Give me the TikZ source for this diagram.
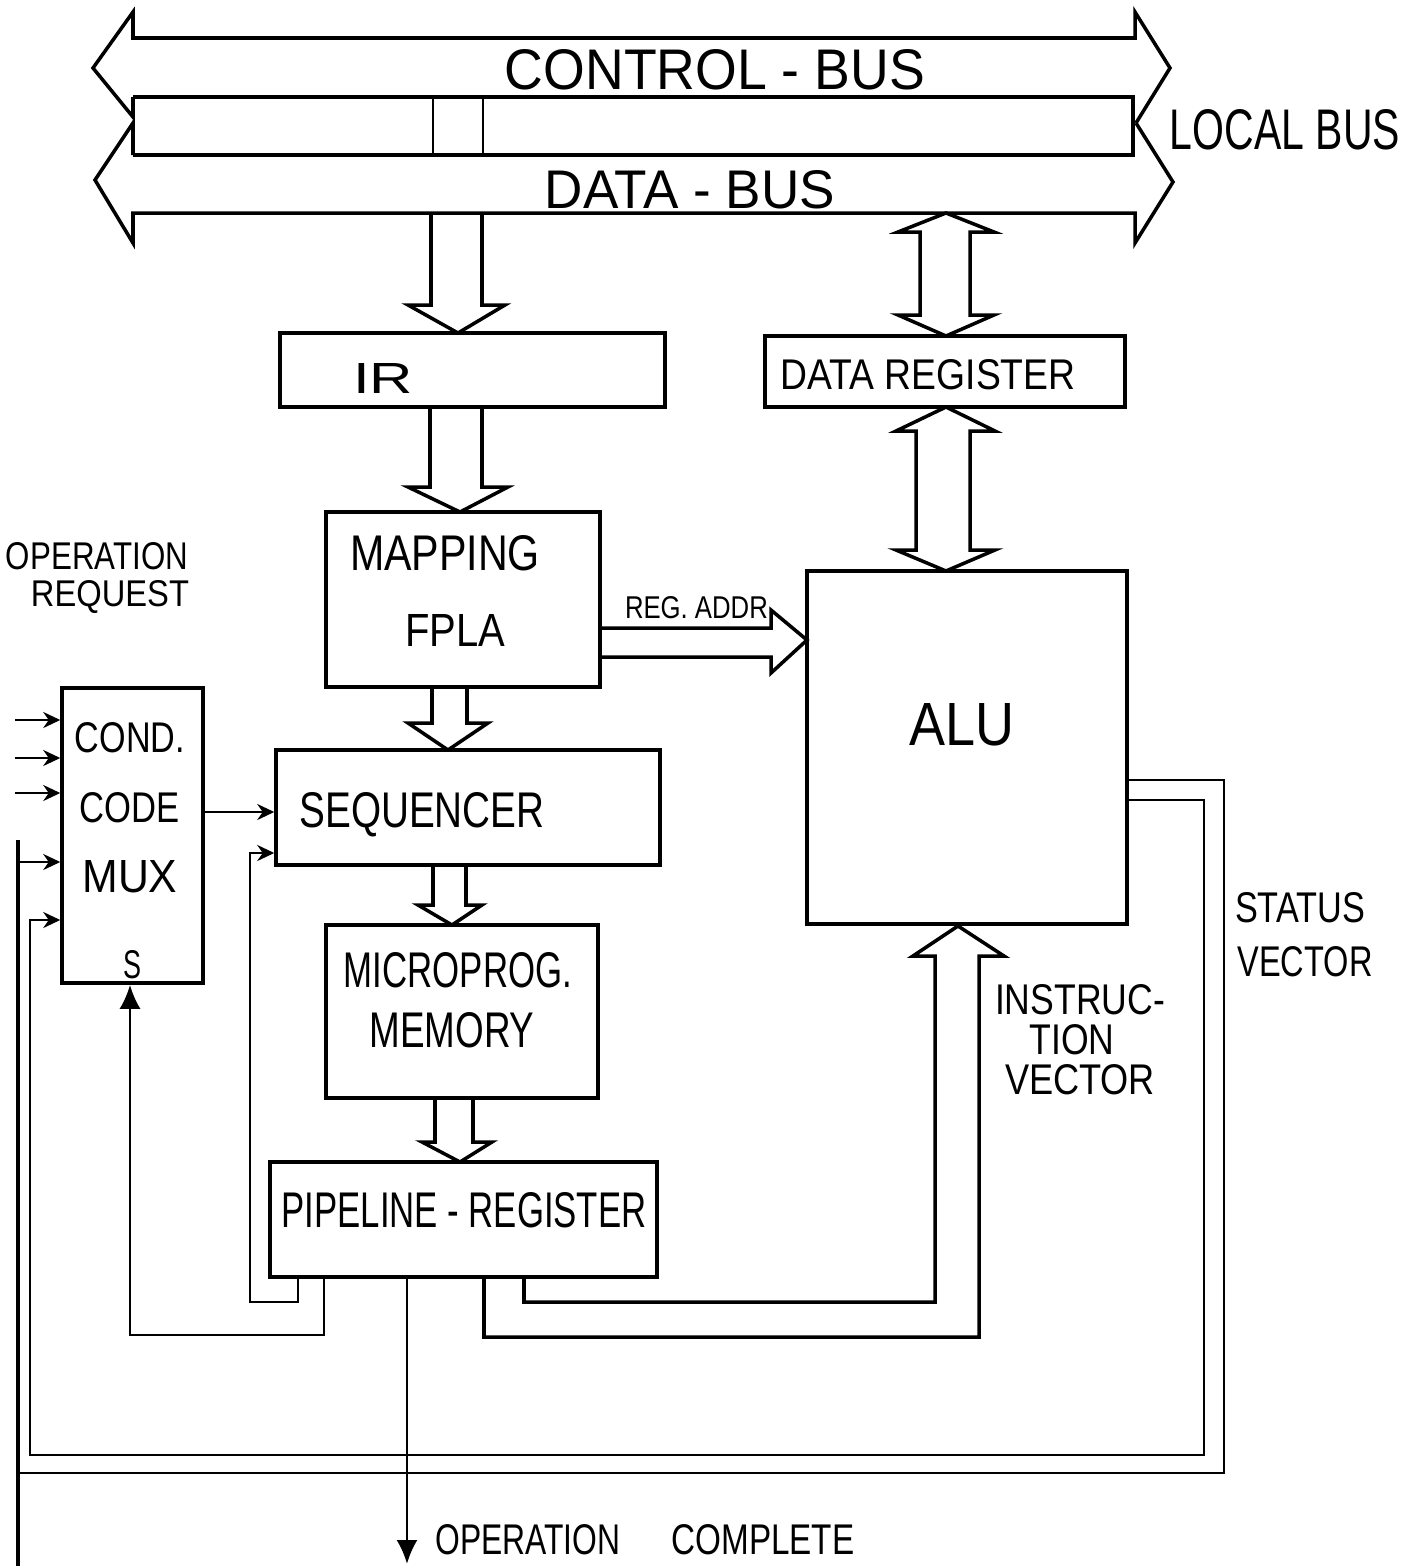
\documentclass[tikz,border=0pt]{standalone}
\usepackage{fontspec}
\setmainfont{Liberation Sans}
\usetikzlibrary{arrows.meta,fit}
\newlength\pxu \setlength\pxu{0.02cm}
\newcommand\hw[3]{\resizebox{#1\pxu}{#2\pxu}{#3}}
% hollow down arrow: xl xr ytop ybase headl headr tipx tipy
\newcommand\vfat[8]{\draw[bus] (#1,#3) -- (#1,#4) -- (#5,#4) -- (#7,#8) -- (#6,#4) -- (#2,#4) -- (#2,#3);}
% hollow double arrow: cx xl xr ytiptop ybasetop ybasebot ytipbot hl hr
\newcommand\vdbl[9]{\draw[bus] (#1,#4) -- (#9,#5) -- (#3,#5) -- (#3,#6) -- (#9,#6) -- (#1,#7) -- (#8,#6) -- (#2,#6) -- (#2,#5) -- (#8,#5) -- cycle;}
\begin{document}
\begin{tikzpicture}[x=0.02cm,y=-0.02cm,
  box/.style={draw,line width=2pt,inner sep=0pt},
  bus/.style={line width=2pt,line join=miter},
  wire/.style={line width=1.5pt},
  lbl/.style={inner sep=0pt},
  inarrow/.style={-{Stealth[length=0.34cm,width=0.32cm]}},
  bigtip/.style={-{Latex[length=0.48cm,width=0.42cm]}}]
\fill[white] (0,0) rectangle (1420,1566);
\useasboundingbox (0,0) rectangle (1420,1566);

% ---------------- buses ----------------
\draw[bus] (133,97) -- (133,117) -- (93,68) -- (133,12) -- (133,38) -- (1135,38) -- (1135,12) -- (1170,68) -- (1136,123);
\draw[bus] (133,97) -- (1133,97) -- (1133,155) -- (133,155);
\draw[bus] (133,155) -- (133,123) -- (95,180) -- (133,243) -- (133,213) -- (1135,213) -- (1135,243) -- (1173,182) -- (1136,123);
\draw[wire] (433,97) -- (433,155);
\draw[wire] (483,97) -- (483,155);

% ---------------- boxes ----------------
\node[box, fit={(280,333) (665,407)}] (ir) {};
\node[box, fit={(765,336) (1125,407)}] (dreg) {};
\node[box, fit={(326,512) (600,687)}] (map) {};
\node[box, fit={(807,571) (1127,924)}] (alu) {};
\node[box, fit={(62,688) (203,983)}] (mux) {};
\node[box, fit={(276,750) (660,865)}] (seq) {};
\node[box, fit={(326,925) (598,1098)}] (mem) {};
\node[box, fit={(270,1162) (657,1277)}] (pipe) {};

% ---------------- hollow arrows ----------------
\vfat{431}{482}{213}{305}{408}{505}{458}{333}
\vfat{430}{482}{407}{487}{408}{508}{460}{512}
\vfat{432}{467}{687}{723}{408}{488}{448}{750}
\vfat{433}{466}{865}{905}{418}{482}{452}{925}
\vfat{435}{473}{1098}{1142}{422}{492}{460}{1162}
\vdbl{946}{920}{970}{213}{232}{315}{336}{898}{994}
\vdbl{946}{916}{970}{407}{431}{550}{571}{896}{995}
% REG. ADDR.
\draw[bus] (600,628) -- (771,628) -- (771,610) -- (807,640) -- (771,673) -- (771,657) -- (600,657);
% instruction vector
\draw[bus] (524,1277) -- (524,1302) -- (935,1302) -- (935,956) -- (913,956) -- (958,926) -- (1004,956) -- (979,956) -- (979,1337) -- (484,1337) -- (484,1277);

% ---------------- wires ----------------
\draw[wire,inarrow] (mux.east |- 0,812) -- (seq.west |- 0,812);
\draw[wire,inarrow] (15,720) -- (mux.west |- 0,720);
\draw[wire,inarrow] (15,758) -- (mux.west |- 0,758);
\draw[wire,inarrow] (15,793) -- (mux.west |- 0,793);
\draw[line width=2.6pt] (18,840) -- (18,1566);
\draw[wire,inarrow] (18,862) -- (mux.west |- 0,862);
\draw[wire] (alu.east |- 0,780) -- (1224,780) -- (1224,1473) -- (18,1473);
\draw[wire,inarrow] (alu.east |- 0,800) -- (1204,800) -- (1204,1455) -- (30,1455) -- (30,920) -- (mux.west |- 0,920);
\draw[wire,inarrow] (pipe.south -| 298,0) -- (298,1302) -- (250,1302) -- (250,853) -- (seq.west |- 0,853);
\draw[wire,bigtip] (pipe.south -| 324,0) -- (324,1335) -- (130,1335) -- (mux.south -| 130,0);
\draw[wire,bigtip] (pipe.south -| 407,0) -- (407,1564);

% ---------------- labels ----------------
\node[lbl] (tcb) at (715,70) {\hw{420}{40}{CONTROL - BUS}};
\node[lbl] (tdb) at (690,190) {\hw{290}{38}{DATA - BUS}};
\node[lbl] (tlb) at (1285,130) {\hw{230}{40}{LOCAL BUS}};
\node[lbl] (tir) at (383,378) {\hw{60}{30}{IR}};
\node[lbl] (tdr) at (928,375) {\hw{295}{30}{DATA REGISTER}};
\node[lbl] (tmap1) at (445,553) {\hw{190}{35}{MAPPING}};
\node[lbl] (tmap2) at (455,630) {\hw{100}{32}{FPLA}};
\node[lbl] (treg) at (700,608) {\hw{150}{22}{REG. ADDR.}};
\node[lbl] (talu) at (962,725) {\hw{105}{42}{ALU}};
\node[lbl] (tmux1) at (130,738) {\hw{110}{30}{COND.}};
\node[lbl] (tmux2) at (130,808) {\hw{100}{30}{CODE}};
\node[lbl] (tmux3) at (130,877) {\hw{95}{32}{MUX}};
\node[lbl] (tsel) at (132,965) {\hw{18}{28}{S}};
\node[lbl] (tseq) at (422,815) {\hw{245}{35}{SEQUENCER}};
\node[lbl] (tmem1) at (458,970) {\hw{228}{35}{MICROPROG.}};
\node[lbl] (tmem2) at (452,1030) {\hw{165}{35}{MEMORY}};
\node[lbl] (tpipe) at (464,1210) {\hw{365}{35}{PIPELINE - REGISTER}};
\node[lbl] (tsv1) at (1300,908) {\hw{130}{30}{STATUS}};
\node[lbl] (tsv2) at (1305,962) {\hw{135}{30}{VECTOR}};
\node[lbl] (tiv1) at (1080,1000) {\hw{170}{30}{INSTRUC-}};
\node[lbl] (tiv2) at (1072,1040) {\hw{85}{30}{TION}};
\node[lbl] (tiv3) at (1080,1080) {\hw{150}{30}{VECTOR}};
\node[lbl] (toc1) at (528,1540) {\hw{185}{30}{OPERATION}};
\node[lbl] (toc2) at (763,1540) {\hw{183}{30}{COMPLETE}};
\node[lbl] (tor1) at (97,556) {\hw{182}{27}{OPERATION}};
\node[lbl] (tor2) at (110,597) {\hw{158}{26}{REQUEST}};
\end{tikzpicture}
\end{document}
